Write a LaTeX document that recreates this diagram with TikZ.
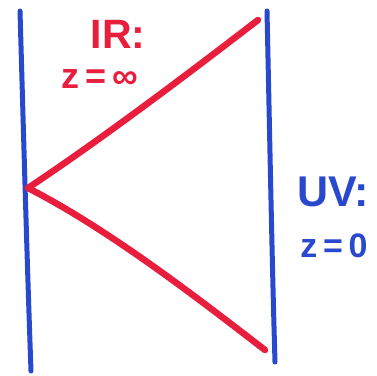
\documentclass[tikz,border=0pt]{standalone}
\usepackage{fontspec}
\setmainfont{Liberation Sans}
\definecolor{penblue}{RGB}{40,72,205}
\definecolor{penred}{RGB}{232,30,60}
\begin{document}
\begin{tikzpicture}[x=1pt,y=-1pt,
  blueline/.style={penblue,line width=5pt,line cap=round},
  redline/.style={penred,line width=6.5pt,line cap=round},
  redtext/.style={text=penred,inner sep=0pt},
  bluetext/.style={text=penblue,inner sep=0pt}]
\useasboundingbox (0,0) rectangle (377,375);
% boundaries
\coordinate (lt) at (20,11);
\coordinate (lb) at (31,371);
\coordinate (rt) at (267,11);
\coordinate (rb) at (275,362);
\draw[blueline] (lt) .. controls (24,150) and (27,260) .. (lb);
\draw[blueline] (rt) .. controls (270,150) and (272,260) .. (rb);
% red lines
\coordinate (v) at (28,188);
\coordinate (ut) at (258,20);
\coordinate (db) at (265,350);
\draw[redline] (v) .. controls (100,140) and (180,80) .. (ut);
\draw[redline] (v) .. controls (110,230) and (200,300) .. (db);
% labels
\node[redtext,font=\bfseries\fontsize{41}{41}\selectfont] (ir) at (118,34) {IR:};
\node[redtext,font=\bfseries\fontsize{36}{36}\selectfont,anchor=base] (irz) at (100,88) {z\,=\,∞};
\node[bluetext,font=\bfseries\fontsize{43}{43}\selectfont] (uv) at (333,192) {UV:};
\node[bluetext,font=\bfseries\fontsize{34}{34}\selectfont,anchor=base] (uvz) at (334,257) {z\,=\,0};
\end{tikzpicture}
\end{document}
